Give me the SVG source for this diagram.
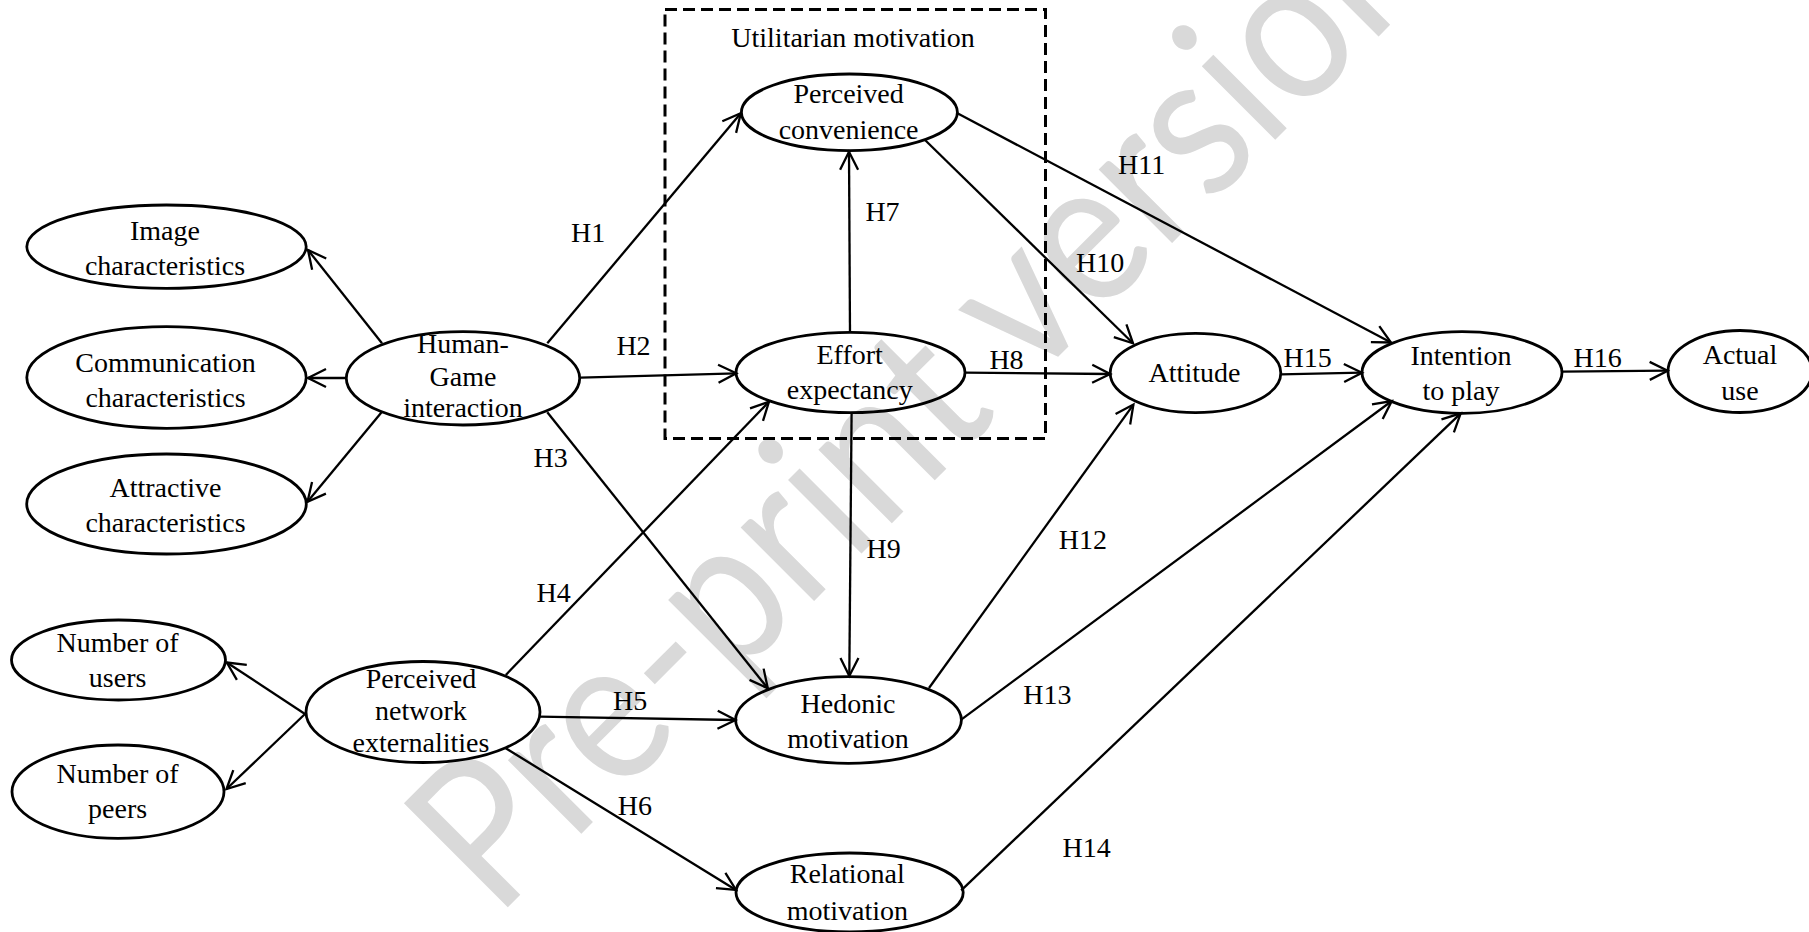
<svg xmlns="http://www.w3.org/2000/svg" width="1809" height="932" viewBox="0 0 1809 932">
<style>
.n ellipse{fill:none;stroke:#000;stroke-width:2.8}
text{font-family:"Liberation Serif","Times New Roman",serif;font-size:28px;fill:#000}
.n text{text-anchor:middle}
.c line{stroke:#000;stroke-width:2.3;marker-end:url(#a)}
.box{fill:none;stroke:#000;stroke-width:3;stroke-dasharray:12 6}
.wm{font-family:Lato,"Open Sans",sans-serif;font-weight:400;font-size:205px;fill:#d9d9d9}
</style>
<defs>
<marker id="a" markerUnits="userSpaceOnUse" markerWidth="26" markerHeight="26" viewBox="-22 -13 26 26" refX="0" refY="0" orient="auto">
<path d="M-18,-9 L0,0 L-18,9" fill="none" stroke="#000" stroke-width="2.3"/>
</marker>
</defs>
<rect width="1809" height="932" fill="#fff"/>
<text class="wm" transform="translate(496,919) rotate(-45) scale(0.89,1)">Pre-print version</text>

<g id="utilitarian">
<rect class="box" x="665" y="9.5" width="380.5" height="429"/>
<text x="853" y="46.7" text-anchor="middle">Utilitarian motivation</text>
</g>

<g id="connectors" class="c">
<line x1="382" y1="343.3" x2="308" y2="250"/>
<line x1="346.3" y1="378" x2="308" y2="378"/>
<line x1="382" y1="411.7" x2="307.5" y2="501.7"/>
<line x1="305" y1="714" x2="226.8" y2="662.5"/>
<line x1="305" y1="714" x2="226.5" y2="789"/>
<line x1="547.3" y1="343.3" x2="740.8" y2="113.3"/>
<line x1="580.6" y1="377.7" x2="736.3" y2="373.3"/>
<line x1="547.3" y1="412.3" x2="767.8" y2="688.3"/>
<line x1="505.8" y1="675" x2="769" y2="401.7"/>
<line x1="539.3" y1="716.7" x2="735.6" y2="720"/>
<line x1="505.8" y1="748.3" x2="736" y2="890"/>
<line x1="850" y1="332.3" x2="849" y2="151.7"/>
<line x1="965.3" y1="372.7" x2="1110.2" y2="374"/>
<line x1="851.6" y1="412.7" x2="849.3" y2="676"/>
<line x1="925" y1="140" x2="1133" y2="343.3"/>
<line x1="957.4" y1="113.3" x2="1391" y2="342.5"/>
<line x1="929" y1="688" x2="1133.4" y2="404.6"/>
<line x1="961.2" y1="719.7" x2="1391.8" y2="401"/>
<line x1="961.2" y1="890.4" x2="1460.7" y2="413.4"/>
<line x1="1280.7" y1="374.3" x2="1362" y2="372.7"/>
<line x1="1561.7" y1="371.7" x2="1667.7" y2="370.7"/>
<text x="571" y="241.7">H1</text>
<text x="616.4" y="355">H2</text>
<text x="533.6" y="466.7">H3</text>
<text x="536.6" y="601.7">H4</text>
<text x="613" y="710">H5</text>
<text x="617.8" y="815">H6</text>
<text x="865.4" y="220.7">H7</text>
<text x="989.4" y="369.3">H8</text>
<text x="866.5" y="558.3">H9</text>
<text x="1076" y="271.7">H10</text>
<text x="1118" y="174">H11</text>
<text x="1058.8" y="549">H12</text>
<text x="1023.2" y="703.8">H13</text>
<text x="1062.6" y="857">H14</text>
<text x="1283.6" y="367.3">H15</text>
<text x="1573.6" y="367.3">H16</text>
</g>

<g id="image-characteristics" class="n">
<ellipse cx="166.5" cy="246.7" rx="139.7" ry="41.7"/>
<text x="165" y="240">Image</text>
<text x="165" y="275">characteristics</text>
</g>
<g id="communication-characteristics" class="n">
<ellipse cx="166.5" cy="377.5" rx="139.7" ry="50.8"/>
<text x="165.5" y="371.7">Communication</text>
<text x="165.5" y="406.7">characteristics</text>
</g>
<g id="attractive-characteristics" class="n">
<ellipse cx="166.5" cy="504" rx="139.8" ry="50"/>
<text x="165.5" y="496.7">Attractive</text>
<text x="165.5" y="531.7">characteristics</text>
</g>
<g id="human-game-interaction" class="n">
<ellipse cx="463" cy="378.3" rx="116.7" ry="46.7"/>
<text x="463" y="353">Human-</text>
<text x="463" y="385.5">Game</text>
<text x="463" y="417">interaction</text>
</g>
<g id="number-of-users" class="n">
<ellipse cx="118.5" cy="660" rx="107" ry="40"/>
<text x="117.6" y="651.7">Number of</text>
<text x="117.6" y="686.7">users</text>
</g>
<g id="number-of-peers" class="n">
<ellipse cx="118" cy="791.7" rx="106" ry="46.7"/>
<text x="117.6" y="783.3">Number of</text>
<text x="117.6" y="818.3">peers</text>
</g>
<g id="perceived-network-externalities" class="n">
<ellipse cx="423" cy="712" rx="117" ry="50.5"/>
<text x="421" y="688.3">Perceived</text>
<text x="421" y="720">network</text>
<text x="421" y="751.7">externalities</text>
</g>
<g id="perceived-convenience" class="n">
<ellipse cx="849.4" cy="112.3" rx="108" ry="38.3"/>
<text x="848.6" y="103.3">Perceived</text>
<text x="848.6" y="139.3">convenience</text>
</g>
<g id="effort-expectancy" class="n">
<ellipse cx="850.5" cy="372.5" rx="114.5" ry="40.2"/>
<text x="849.7" y="364.3">Effort</text>
<text x="849.7" y="399.3">expectancy</text>
</g>
<g id="hedonic-motivation" class="n">
<ellipse cx="848.5" cy="720" rx="112.9" ry="43.3"/>
<text x="848" y="713.3">Hedonic</text>
<text x="848" y="748.3">motivation</text>
</g>
<g id="relational-motivation" class="n">
<ellipse cx="849.6" cy="892.5" rx="113.6" ry="39.5"/>
<text x="847.3" y="883.3">Relational</text>
<text x="847.3" y="920">motivation</text>
</g>
<g id="attitude" class="n">
<ellipse cx="1195.5" cy="373" rx="85.3" ry="39.7"/>
<text x="1194.5" y="381.7">Attitude</text>
</g>
<g id="intention-to-play" class="n">
<ellipse cx="1462" cy="372.5" rx="100" ry="40.8"/>
<text x="1461" y="364.5">Intention</text>
<text x="1461" y="399.5">to play</text>
</g>
<g id="actual-use" class="n">
<ellipse cx="1740" cy="371.5" rx="72" ry="41"/>
<text x="1740" y="363.5">Actual</text>
<text x="1740" y="399.5">use</text>
</g>
</svg>
